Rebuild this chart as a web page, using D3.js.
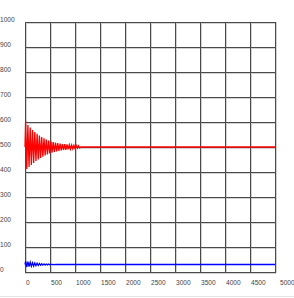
<!DOCTYPE html>
<html lang="en">
<head>
<meta charset="UTF-8">
<title>Damped oscillation</title>
<script src="https://d3js.org/d3.v7.min.js"></script>
<style>
    body { margin: 0; background: #fff; }
    svg { display: block; }
    .lbl { font-family: "Liberation Sans", Arial, sans-serif; font-size: 6.6px; fill: #444; }
</style>
</head>
<body>
<div id="chart"></div>
<script>
    // axis ticks
    const xTicks = [0, 500, 1000, 1500, 2000, 2500, 3000, 3500, 4000, 4500, 5000];
    const yTicks = [0, 100, 200, 300, 400, 500, 600, 700, 800, 900, 1000];

    // red series (time, value)
    const redT = [0, 12, 35, 58, 81, 104, 127, 150, 173, 196, 219, 242, 265, 288, 311, 334, 357, 380,
        403, 426, 449, 472, 495, 518, 541, 564, 587, 610, 633, 656, 679, 702, 725, 748, 771, 794,
        817, 840, 863, 886, 909, 932, 955, 978, 1001, 1024, 1047, 1070, 1093, 1116, 5000];
    const redV = [500, 605, 412, 588, 420, 578, 428, 568, 436, 560, 444, 553, 450, 546, 456, 540, 461, 535,
        466, 530, 470, 526, 474, 523, 477, 520, 480, 518, 482, 516, 484, 514, 486, 512, 488, 511,
        489, 510, 491, 509, 492, 508, 493, 507, 494, 506, 495, 505, 496, 500, 500];

    // blue series
    const blueT = [0, 12, 35, 58, 81, 104, 127, 150, 173, 196, 219, 242, 265, 288, 311, 334, 357, 380,
        403, 426, 449, 472, 495, 518, 541, 564, 587, 610, 640, 5000];
    const blueV = [30, 44, 20, 41, 22, 39, 23, 37, 24, 36, 25, 35, 26, 34, 27, 33, 27.5, 32.5,
        28, 32, 28.5, 31.5, 29, 31, 29.3, 30.7, 29.5, 30.5, 30, 30];

    const width = 294, height = 298;
    const x = d3.scaleLinear().domain([0, 5000]).range([25, 275]);
    const y = d3.scaleLinear().domain([0, 1000]).range([272, 22]);

    const svg = d3.select("#chart").append("svg")
        .attr("width", width).attr("height", height);

    // grid: a dark line with a light grey shadow next to it
    const grid = svg.append("g");
    grid.selectAll(".vs").data(xTicks).enter().append("line")
        .attr("x1", d => x(d) + 1.5).attr("x2", d => x(d) + 1.5)
        .attr("y1", y(1000)).attr("y2", y(0) + 1)
        .attr("stroke", "#d2d2d2").attr("stroke-width", 1);
    grid.selectAll(".hs").data(yTicks).enter().append("line")
        .attr("y1", d => y(d) + 1.5).attr("y2", d => y(d) + 1.5)
        .attr("x1", x(0)).attr("x2", x(5000) + 1)
        .attr("stroke", "#d2d2d2").attr("stroke-width", 1);
    grid.selectAll(".vx").data(xTicks).enter().append("line")
        .attr("x1", d => x(d) + 0.5).attr("x2", d => x(d) + 0.5)
        .attr("y1", y(1000)).attr("y2", y(0) + 1)
        .attr("stroke", "#4a4a4a").attr("stroke-width", 1);
    grid.selectAll(".hy").data(yTicks).enter().append("line")
        .attr("y1", d => y(d) + 0.5).attr("y2", d => y(d) + 0.5)
        .attr("x1", x(0)).attr("x2", x(5000) + 1)
        .attr("stroke", "#4a4a4a").attr("stroke-width", 1);

    // labels
    svg.selectAll(".yl").data(yTicks).enter().append("text")
        .attr("class", "lbl")
        .attr("x", 0).attr("y", d => y(d) - 0.5)
        .text(d => d);
    svg.selectAll(".xl").data(xTicks).enter().append("text")
        .attr("class", "lbl")
        .attr("x", d => x(d) + (d === 5000 ? 5 : 1)).attr("y", 284.5)
        .text(d => d);

    // series
    const line = d3.line().x(d => x(d[0])).y(d => y(d[1]));
    svg.append("path")
        .datum(redT.map((t, i) => [t, redV[i]]))
        .attr("fill", "none").attr("stroke", "#ff0000").attr("stroke-width", 1.3)
        .attr("d", line);
    svg.append("path")
        .datum(blueT.map((t, i) => [t, blueV[i]]))
        .attr("fill", "none").attr("stroke", "#0000ff").attr("stroke-width", 1.3)
        .attr("d", line);

    // faint bottom border
    svg.append("line")
        .attr("x1", 0).attr("x2", width).attr("y1", 296.5).attr("y2", 296.5)
        .attr("stroke", "#e4e4e4").attr("stroke-width", 1);
</script>
</body>
</html>
